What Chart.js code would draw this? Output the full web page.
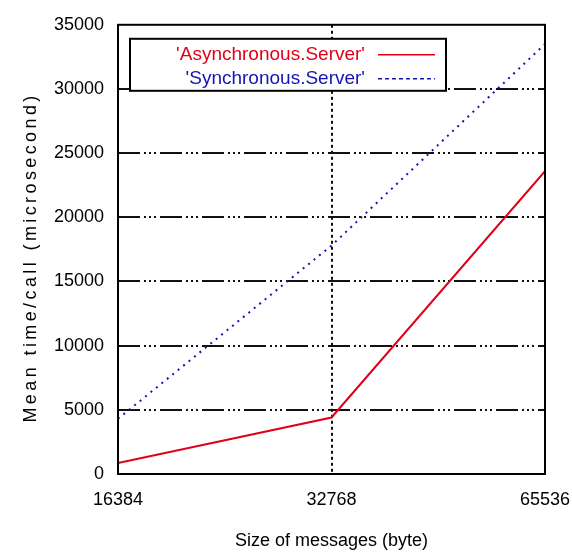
<!DOCTYPE html>
<html>
<head>
<meta charset="utf-8">
<script src="https://cdn.jsdelivr.net/npm/chart.js@4/dist/chart.umd.min.js"></script>
<style>
  html, body { margin: 0; padding: 0; background: #fff; }
  canvas { display: block; }
</style>
</head>
<body>
<canvas id="timeChart" width="572" height="554"></canvas>
<script>
// message sizes in bytes (log2 axis)
var messageSizes = [16384, 32768, 65536];
// mean time per call, microseconds
var asyncTimes = [850, 4400, 23600];
var syncTimes = [4300, 17800, 33500];
var yTicks = [0, 5000, 10000, 15000, 20000, 25000, 30000, 35000];

var seriesLabels = ["'Asynchronous.Server'", "'Synchronous.Server'"];
var FONT = "'Liberation Sans', Arial, sans-serif";

function toPoints(values) {
    return messageSizes.map(function (size, i) {
        return { x: size, y: values[i] };
    });
}

// box around the plot area
var framePlugin = {
    id: 'frame',
    afterDatasetsDraw: function (chart) {
        var ca = chart.chartArea, ctx = chart.ctx;
        ctx.save();
        ctx.strokeStyle = '#000';
        ctx.lineWidth = 2;
        ctx.strokeRect(ca.left, ca.top, ca.right - ca.left, ca.bottom - ca.top);
        ctx.restore();
    }
};

// gnuplot style key: label text, then a line sample to the right
var keyPlugin = {
    id: 'key',
    afterDraw: function (chart) {
        var ca = chart.chartArea, ctx = chart.ctx;
        var left = ca.left + 12, top = ca.top + 14, w = 316, h = 52;
        ctx.save();
        ctx.fillStyle = '#fff';
        ctx.fillRect(left, top, w, h);
        ctx.strokeStyle = '#000';
        ctx.lineWidth = 2;
        ctx.strokeRect(left, top, w, h);

        ctx.font = '19px ' + FONT;
        ctx.textAlign = 'right';
        ctx.textBaseline = 'middle';
        chart.data.datasets.forEach(function (ds, i) {
            var y = top + 16 + i * 24;
            ctx.fillStyle = ds.borderColor;
            ctx.fillText(ds.label, left + 235, y);
            ctx.strokeStyle = ds.borderColor;
            ctx.lineWidth = 1.5;
            ctx.setLineDash(i === 0 ? [] : [4, 3]);
            ctx.beginPath();
            ctx.moveTo(left + 248, y);
            ctx.lineTo(left + 305, y);
            ctx.stroke();
        });
        ctx.restore();
    }
};

// rotated y title with wide letter spacing
var yTitlePlugin = {
    id: 'yTitle',
    afterDraw: function (chart) {
        var ca = chart.chartArea, ctx = chart.ctx;
        ctx.save();
        ctx.translate(31, (ca.top + ca.bottom) / 2 + 8);
        ctx.rotate(-Math.PI / 2);
        ctx.font = '18px ' + FONT;
        ctx.fillStyle = '#000';
        ctx.textAlign = 'center';
        ctx.textBaseline = 'middle';
        ctx.letterSpacing = '3.4px';
        ctx.fillText('Mean time/call (microsecond)', 0, 0);
        ctx.restore();
    }
};

function edgeTick(ctx, lo, hi) {
    var v = ctx.tick.value;
    return (v <= lo || v >= hi) ? 'rgba(0,0,0,0)' : '#111';
}

new Chart(document.getElementById('timeChart'), {
    type: 'line',
    data: {
        datasets: [{
            label: seriesLabels[0],
            data: toPoints(asyncTimes),
            borderColor: 'rgb(226,0,24)',
            borderWidth: 2,
            pointRadius: 0,
            tension: 0
        }, {
            label: seriesLabels[1],
            data: toPoints(syncTimes),
            borderColor: '#1414b4',
            borderWidth: 2,
            borderDash: [2, 5],
            pointRadius: 0,
            tension: 0
        }]
    },
    options: {
        responsive: false,
        animation: false,
        layout: {
            padding: { top: 23, right: 27, left: 0, bottom: 0 }
        },
        plugins: {
            legend: { display: false },
            tooltip: { enabled: false }
        },
        scales: {
            x: {
                type: 'logarithmic',
                min: messageSizes[0],
                max: messageSizes[messageSizes.length - 1],
                afterBuildTicks: function (scale) {
                    scale.ticks = messageSizes.map(function (v) { return { value: v }; });
                },
                afterFit: function (scale) {
                    // end labels may hang past the plot edges
                    scale.height = 80;
                    scale.paddingLeft = 0;
                    scale.paddingRight = 0;
                },
                grid: {
                    color: function (ctx) { return edgeTick(ctx, 16384, 65536); },
                    lineWidth: 2,
                    drawTicks: false
                },
                border: { display: false, dash: [3, 3] },
                ticks: {
                    autoSkip: false,
                    maxRotation: 0,
                    padding: 15,
                    color: '#000',
                    font: { family: FONT, size: 18 },
                    callback: function (v) { return String(v); }
                },
                title: {
                    display: true,
                    text: 'Size of messages (byte)',
                    color: '#000',
                    font: { family: FONT, size: 18 },
                    padding: { top: 4, bottom: 2 }
                }
            },
            y: {
                min: yTicks[0],
                max: yTicks[yTicks.length - 1],
                afterBuildTicks: function (scale) {
                    scale.ticks = yTicks.map(function (v) { return { value: v }; });
                },
                afterFit: function (scale) {
                    scale.width = 118;
                },
                grid: {
                    color: function (ctx) { return edgeTick(ctx, 0, 35000); },
                    lineWidth: 2,
                    drawTicks: false
                },
                border: { display: false, dash: [22, 4, 2, 3, 2, 3, 2, 4] },
                ticks: {
                    padding: 14,
                    color: '#000',
                    font: { family: FONT, size: 18 },
                    callback: function (v) { return String(v); }
                }
            }
        }
    },
    plugins: [framePlugin, keyPlugin, yTitlePlugin]
});
</script>
</body>
</html>
